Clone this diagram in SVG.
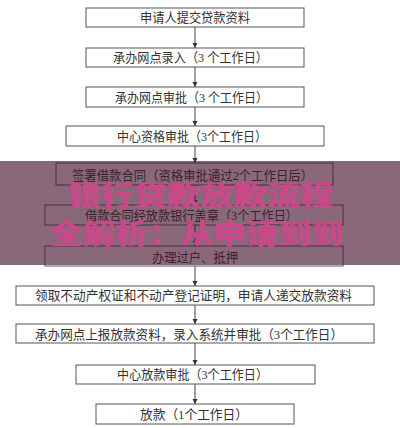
<svg xmlns="http://www.w3.org/2000/svg" width="400" height="428" viewBox="0 0 400 428">
<defs>
<marker id="ah" markerWidth="6" markerHeight="6" refX="5" refY="3" orient="auto" markerUnits="userSpaceOnUse">
<path d="M0,0.5 L5,3 L0,5.5 z" fill="#333"/>
</marker>
<style>
.box{fill:#fff;stroke:#555;stroke-width:1}
.t{font-family:"Liberation Serif","Noto Sans CJK SC",serif;font-size:13px;fill:#333;text-anchor:middle;dominant-baseline:central}
.c{stroke:#444;stroke-width:1;fill:none;marker-end:url(#ah)}
.bt{font-family:"Noto Sans CJK SC",sans-serif;font-weight:900;font-size:28px;fill:#c8488a;text-anchor:middle}
</style>
</defs>
<rect width="400" height="428" fill="#fff"/>
<g id="connectors">
<line class="c" x1="195" y1="27" x2="195" y2="48"/>
<line class="c" x1="195" y1="67" x2="195" y2="87"/>
<line class="c" x1="195" y1="107" x2="195" y2="126"/>
<line class="c" x1="195" y1="146" x2="195" y2="163"/>
<line class="c" x1="195" y1="185" x2="195" y2="205"/>
<line class="c" x1="195" y1="225" x2="195" y2="246"/>
<line class="c" x1="195" y1="266" x2="195" y2="286"/>
<line class="c" x1="195" y1="305" x2="195" y2="324"/>
<line class="c" x1="195" y1="343" x2="195" y2="365"/>
<line class="c" x1="195" y1="384" x2="195" y2="404"/>
</g>
<g id="n1"><rect class="box" x="86" y="8" width="218" height="19"/><text class="t" x="195" y="17.5" textLength="110" lengthAdjust="spacingAndGlyphs">申请人提交贷款资料</text></g>
<g id="n2"><rect class="box" x="86" y="48" width="218" height="19"/><text class="t" x="190.5" y="57.5" textLength="155" lengthAdjust="spacingAndGlyphs">承办网点录入（3 个工作日）</text></g>
<g id="n3"><rect class="box" x="86" y="87" width="218" height="20"/><text class="t" x="191.5" y="97" textLength="153" lengthAdjust="spacingAndGlyphs">承办网点审批（3 个工作日）</text></g>
<g id="n4"><rect class="box" x="66" y="126" width="258" height="20"/><text class="t" x="192" y="136" textLength="150" lengthAdjust="spacingAndGlyphs">中心资格审批（3个工作日）</text></g>
<g id="n5"><rect class="box" x="56" y="163" width="277" height="22"/><text class="t" x="192.5" y="175" textLength="241" lengthAdjust="spacingAndGlyphs">签署借款合同（资格审批通过2个工作日后）</text></g>
<g id="n6"><rect class="box" x="45" y="205" width="298" height="20"/><text class="t" x="191.5" y="215" textLength="213" lengthAdjust="spacingAndGlyphs">借款合同经放款银行盖章（3个工作日）</text></g>
<g id="n7"><rect class="box" x="45" y="246" width="298" height="20"/><text class="t" x="195" y="257" textLength="86" lengthAdjust="spacingAndGlyphs">办理过户、抵押</text></g>
<g id="n8"><rect class="box" x="16" y="286" width="358" height="19"/><text class="t" x="193.5" y="295.5" textLength="317" lengthAdjust="spacingAndGlyphs">领取不动产权证和不动产登记证明，申请人递交放款资料</text></g>
<g id="n9"><rect class="box" x="16" y="324" width="358" height="19"/><text class="t" x="189" y="334" textLength="308" lengthAdjust="spacingAndGlyphs">承办网点上报放款资料，录入系统并审批（3个工作日）</text></g>
<g id="n10"><rect class="box" x="76" y="365" width="239" height="19"/><text class="t" x="192.5" y="374.5" textLength="151" lengthAdjust="spacingAndGlyphs">中心放款审批（3个工作日）</text></g>
<g id="n11"><rect class="box" x="96" y="404" width="198" height="20"/><text class="t" x="194" y="414" textLength="108" lengthAdjust="spacingAndGlyphs">放款（1个工作日）</text></g>
<g id="banner">
<rect x="0" y="161" width="400" height="104" fill="rgb(70,20,45)" fill-opacity="0.64"/>
<text class="bt" x="200" y="206" textLength="266" lengthAdjust="spacingAndGlyphs">银行贷款放款流程</text>
<text class="bt" x="196.5" y="244" textLength="293" lengthAdjust="spacingAndGlyphs">全解析：从申请到到</text>
</g>
</svg>
